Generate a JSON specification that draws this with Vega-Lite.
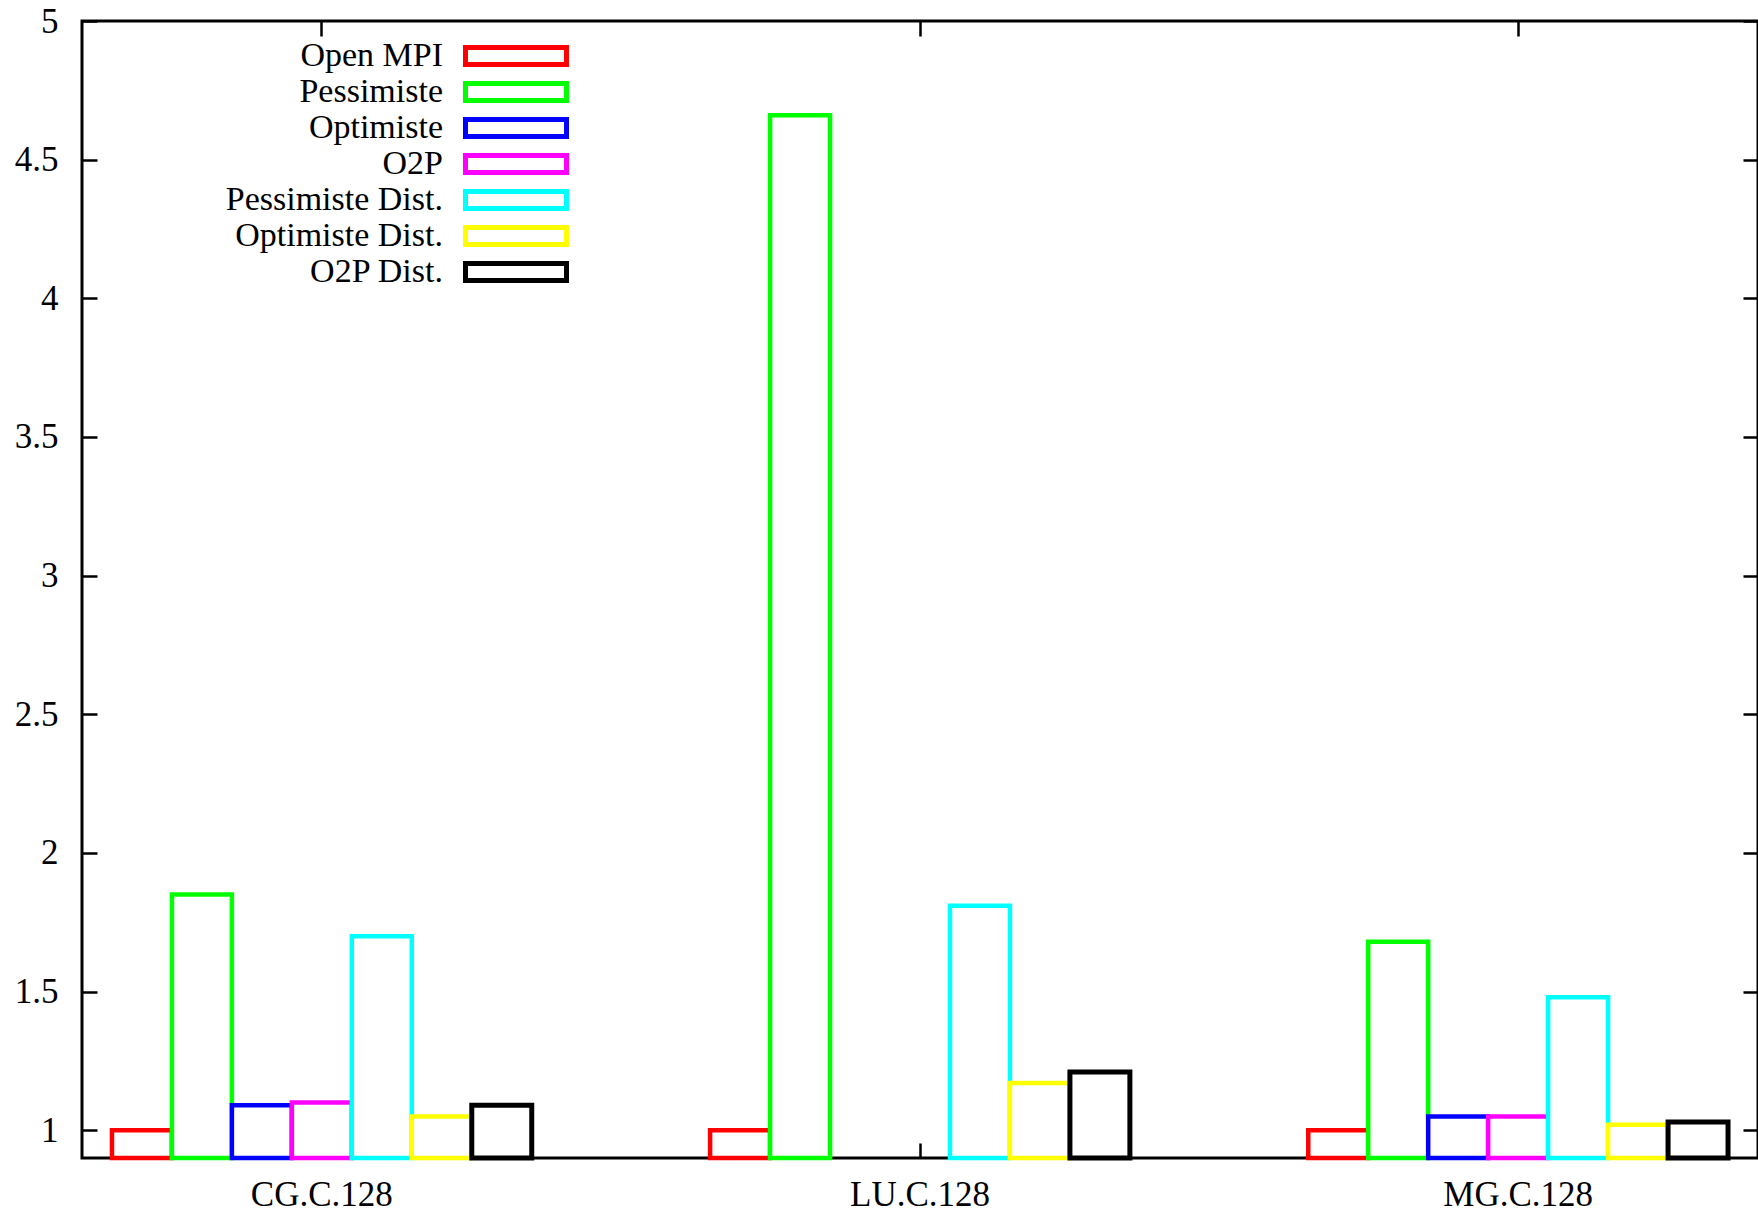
{
  "$schema": "https://vega.github.io/schema/vega-lite/v6.json",
  "width": 1676,
  "height": 1137,
  "autosize": {"type": "none"},
  "padding": {"left": 82, "top": 21, "right": 0, "bottom": 54},
  "background": "white",
  "config": {
    "font": "Liberation Serif",
    "view": {"stroke": "black", "strokeWidth": 3},
    "axis": {
      "labelFont": "Liberation Serif",
      "labelFontSize": 35,
      "labelColor": "black",
      "tickColor": "black",
      "tickWidth": 2.5,
      "domain": false,
      "grid": false,
      "title": null,
      "zindex": 0
    }
  },
  "data": {
    "values": [
      {"benchmark": "CG.C.128", "series": "Open MPI", "ratio": 1.0},
      {"benchmark": "CG.C.128", "series": "Pessimiste", "ratio": 1.85},
      {"benchmark": "CG.C.128", "series": "Optimiste", "ratio": 1.09},
      {"benchmark": "CG.C.128", "series": "O2P", "ratio": 1.10},
      {"benchmark": "CG.C.128", "series": "Pessimiste Dist.", "ratio": 1.70},
      {"benchmark": "CG.C.128", "series": "Optimiste Dist.", "ratio": 1.05},
      {"benchmark": "CG.C.128", "series": "O2P Dist.", "ratio": 1.09},
      {"benchmark": "LU.C.128", "series": "Open MPI", "ratio": 1.0},
      {"benchmark": "LU.C.128", "series": "Pessimiste", "ratio": 4.66},
      {"benchmark": "LU.C.128", "series": "Pessimiste Dist.", "ratio": 1.81},
      {"benchmark": "LU.C.128", "series": "Optimiste Dist.", "ratio": 1.17},
      {"benchmark": "LU.C.128", "series": "O2P Dist.", "ratio": 1.21},
      {"benchmark": "MG.C.128", "series": "Open MPI", "ratio": 1.0},
      {"benchmark": "MG.C.128", "series": "Pessimiste", "ratio": 1.68},
      {"benchmark": "MG.C.128", "series": "Optimiste", "ratio": 1.05},
      {"benchmark": "MG.C.128", "series": "O2P", "ratio": 1.05},
      {"benchmark": "MG.C.128", "series": "Pessimiste Dist.", "ratio": 1.48},
      {"benchmark": "MG.C.128", "series": "Optimiste Dist.", "ratio": 1.02},
      {"benchmark": "MG.C.128", "series": "O2P Dist.", "ratio": 1.03}
    ]
  },
  "layer": [
    {
      "mark": {"type": "bar", "fill": "white", "strokeJoin": "miter"},
      "encoding": {
        "x": {
          "field": "benchmark",
          "type": "nominal",
          "sort": ["CG.C.128", "LU.C.128", "MG.C.128"],
          "scale": {"paddingInner": 0.2982, "paddingOuter": 0.0501},
          "axis": {
            "orient": "bottom",
            "labelAngle": 0,
            "bandPosition": 0.5,
            "tickSize": -15,
            "labelPadding": 62,
            "labelBaseline": "alphabetic"
          }
        },
        "xOffset": {
          "field": "series",
          "type": "nominal",
          "sort": ["Open MPI", "Pessimiste", "Optimiste", "O2P", "Pessimiste Dist.", "Optimiste Dist.", "O2P Dist."],
          "scale": {"paddingInner": 0, "paddingOuter": 0}
        },
        "y": {
          "field": "ratio",
          "type": "quantitative",
          "scale": {"domain": [0.9, 5], "zero": false, "nice": false},
          "axis": {
            "orient": "left",
            "values": [1, 1.5, 2, 2.5, 3, 3.5, 4, 4.5, 5],
            "format": "~g",
            "tickSize": -15,
            "labelPadding": 39
          }
        },
        "y2": {"datum": 0.9},
        "stroke": {
          "field": "series",
          "type": "nominal",
          "scale": {
            "domain": ["Open MPI", "Pessimiste", "Optimiste", "O2P", "Pessimiste Dist.", "Optimiste Dist.", "O2P Dist."],
            "range": ["#ff0000", "#00ff00", "#0000ff", "#ff00ff", "#00ffff", "#ffff00", "#000000"]
          },
          "legend": {
            "orient": "none",
            "legendX": 417,
            "legendY": 18,
            "title": null,
            "padding": 0,
            "direction": "vertical",
            "symbolType": "M-5,-0.85H5V0.85H-5Z",
            "symbolSize": 408,
            "symbolStrokeWidth": 5,
            "symbolFillColor": "white",
            "symbolOffset": 0,
            "labelFont": "Liberation Serif",
            "labelFontSize": 34,
            "labelColor": "black",
            "labelAlign": "right",
            "labelOffset": -90,
            "labelLimit": 0,
            "rowPadding": -10
          }
        },
        "strokeWidth": {
          "condition": {"test": "datum.series === 'O2P Dist.'", "value": 5},
          "value": 4.5
        }
      }
    },
    {
      "mark": {"type": "bar", "opacity": 0},
      "encoding": {
        "x": {
          "field": "benchmark",
          "type": "nominal",
          "sort": ["CG.C.128", "LU.C.128", "MG.C.128"],
          "axis": {"orient": "top", "labels": false, "bandPosition": 0.5, "tickSize": -15}
        },
        "y": {
          "field": "ratio",
          "type": "quantitative",
          "axis": {"orient": "right", "labels": false, "values": [1, 1.5, 2, 2.5, 3, 3.5, 4, 4.5, 5], "tickSize": -15}
        },
        "y2": {"datum": 0.9}
      }
    }
  ],
  "resolve": {"axis": {"x": "independent", "y": "independent"}}
}
